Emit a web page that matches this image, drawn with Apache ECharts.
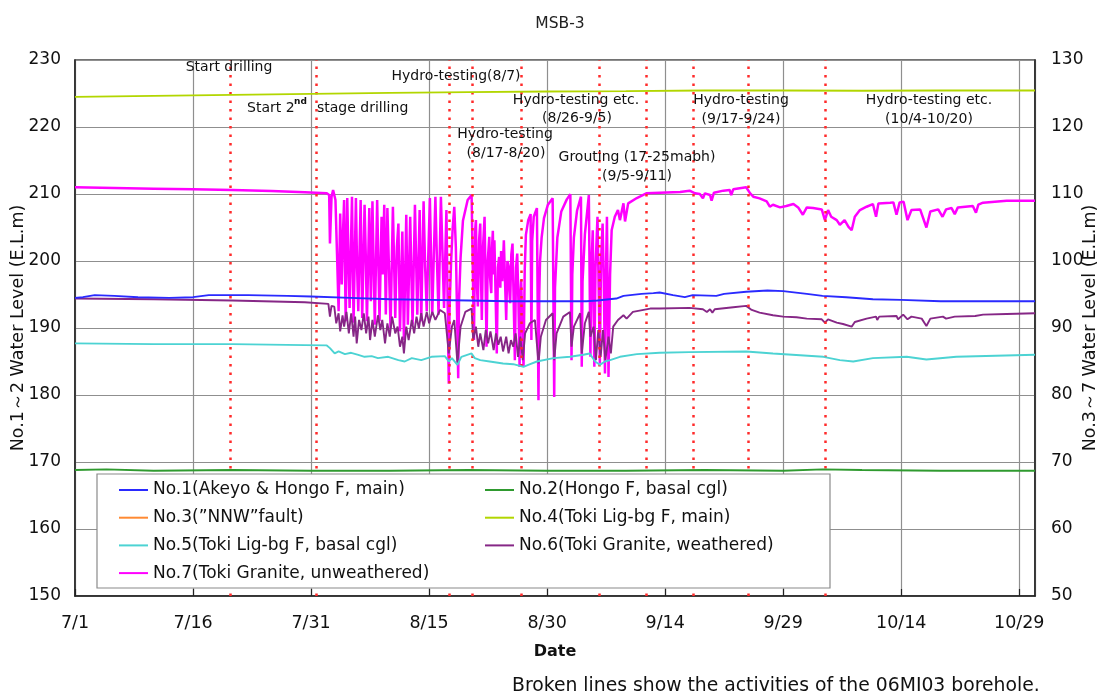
<!DOCTYPE html>
<html>
<head>
<meta charset="utf-8">
<script src="https://cdn.jsdelivr.net/npm/echarts@6/dist/echarts.min.js"></script>
<style>
  html, body { margin: 0; padding: 0; background: #ffffff; }
  #chart { width: 1103px; height: 693px; }
</style>
</head>
<body>
<div id="chart"></div>
<script>
// Axis tick labels (days counted from 7/1, one label every 15 days)
const tickLabels = ['7/1', '7/16', '7/31', '8/15', '8/30', '9/14', '9/29', '10/14', '10/29'];

// Activities of the 06MI03 borehole (day offsets from 7/1)
const activityDays = [19.7, 30.7, 47.6, 50.5, 56.7, 66.6, 72.55, 78.6, 85.5, 95.4];

// No.1 and No.2 use the left axis (E.L.m), [day, level]
const no1AkeyoHongoMain = [
  [0,194.5],[1,194.6],[2.5,194.9],[5,194.8],[8,194.6],[12,194.5],[15,194.6],[17,194.9],[22,194.9],
  [27,194.8],[30,194.7],[35,194.5],[40,194.3],[45,194.2],[50,194.1],[55,194.0],[60,194.0],[65,194.0],
  [66.4,194.1],[68.8,194.4],[69.7,194.8],[72,195.1],[73.5,195.2],[74.3,195.3],[76,194.9],[77.5,194.6],
  [78.5,194.9],[81.5,194.8],[82.5,195.1],[85.3,195.4],[88,195.6],[90,195.5],[93,195.1],[95,194.8],
  [98,194.6],[101.4,194.3],[105,194.2],[110,194.0],[122,194.0]
];
const no2HongoBasal = [
  [0,168.8],[4,168.9],[10,168.7],[20,168.8],[30,168.7],[40,168.7],[50,168.8],[60,168.7],[70,168.7],
  [80,168.8],[90,168.7],[95,168.9],[100,168.8],[110,168.7],[122,168.7]
];

// No.3 to No.7 use the right axis (E.L.m), [day, level]
const no3NNWFault = [];
const no4TokiLigMain = [
  [0,124.5],[10,124.65],[20,124.8],[30,124.95],[40,125.1],[50,125.2],[60,125.3],[70,125.35],
  [80,125.45],[90,125.45],[100,125.4],[110,125.45],[122,125.45]
];
const no5TokiLigBasal = [
  [0,87.7],[10,87.6],[20,87.6],[29.2,87.45],[32.0,87.4],[32.4,87.0],[33.0,86.2],[33.5,86.5],[34.3,86.1],
  [35.1,86.3],[36.0,86.0],[36.8,85.7],[37.7,85.8],[38.5,85.5],[39.8,85.7],[41.1,85.2],[41.9,85.0],
  [42.8,85.5],[44.0,85.2],[45.3,85.7],[47.0,85.8],[47.5,85.0],[47.9,85.5],[48.6,84.5],[49.1,85.7],
  [50.4,86.2],[50.8,85.5],[51.5,85.2],[52.7,85.0],[54.4,84.7],[55.7,84.6],[57.0,84.2],[57.6,84.5],
  [58.7,85.0],[60.8,85.5],[62.9,85.7],[64.6,86.0],[65.4,86.2],[66.1,85.0],[66.7,84.5],[67.35,85.0],
  [68.0,85.2],[69.25,85.7],[71.4,86.1],[74.3,86.3],[78.1,86.4],[85.3,86.5],[88.7,86.2],[95.1,85.7],
  [97.2,85.2],[98.9,85.0],[101.4,85.5],[105.7,85.7],[108.2,85.3],[112.0,85.7],[122,86.0]
];
const no6GraniteWeathered = [
  [0,94.4],[10,94.3],[20,94.1],[29.2,93.85],[32.2,93.6],[32.4,91.7],[32.6,93.3],[32.95,93.2],[33.2,90.7],
  [33.5,92.2],[33.7,89.5],[34.0,91.9],[34.2,90.2],[34.5,92.4],[34.8,89.2],[35.1,92.2],[35.4,88.7],
  [35.6,91.7],[35.8,87.7],[36.1,91.2],[36.4,89.7],[36.7,92.2],[37.0,89.2],[37.3,91.7],[37.5,88.2],
  [37.8,91.2],[38.1,88.7],[38.5,91.9],[38.8,89.7],[39.05,91.2],[39.4,87.7],[39.7,90.7],[40.0,88.7],
  [40.3,91.7],[40.7,89.2],[41.0,90.2],[41.3,87.2],[41.6,88.7],[41.8,86.2],[42.1,90.2],[42.4,88.2],
  [42.8,91.2],[43.1,89.2],[43.4,91.7],[43.7,89.9],[44.0,92.2],[44.3,90.2],[44.7,92.4],[45.0,90.7],
  [45.4,92.4],[45.8,91.2],[46.4,92.7],[47.0,92.2],[47.5,86.2],[47.9,90.2],[48.2,91.2],[48.6,84.7],
  [49.0,90.2],[49.6,92.4],[50.4,92.9],[50.6,88.2],[50.95,90.2],[51.25,87.2],[51.5,89.2],[51.9,86.7],
  [52.2,89.7],[52.5,87.7],[52.8,89.5],[53.2,86.7],[53.5,89.2],[53.8,87.5],[54.1,88.7],[54.4,86.5],
  [54.8,88.7],[55.1,86.2],[55.4,88.2],[55.7,87.2],[56.0,89.2],[56.3,85.7],[56.6,88.7],[56.9,85.2],
  [57.2,89.2],[57.8,90.7],[58.45,91.2],[58.9,84.7],[59.2,88.7],[59.85,91.2],[60.7,92.2],[60.9,85.2],
  [61.2,89.2],[62.05,91.7],[62.9,92.4],[63.1,87.2],[63.4,90.2],[64.2,92.2],[64.4,86.2],[64.8,90.7],
  [65.3,92.4],[65.5,88.7],[65.9,90.2],[66.2,85.2],[66.5,89.7],[66.8,85.7],[67.1,89.7],[67.4,85.2],
  [67.8,88.7],[68.1,86.2],[68.4,90.2],[69.0,91.2],[69.7,91.9],[70.1,91.4],[70.9,92.4],[73.1,92.9],
  [74.3,92.9],[78.1,93.0],[79.8,92.8],[80.3,92.4],[80.7,92.8],[81.0,92.3],[81.3,92.8],[83.65,93.1],
  [85.3,93.3],[86.0,92.7],[87.0,92.3],[88.7,91.9],[90.0,91.7],[91.7,91.6],[93.0,91.4],[94.9,91.3],
  [95.3,90.8],[95.7,91.3],[96.8,90.8],[97.6,90.6],[98.7,90.2],[99.1,90.9],[100.6,91.4],[101.8,91.7],
  [101.95,91.2],[102.2,91.7],[104.4,91.8],[104.6,91.3],[105.25,92.0],[105.8,91.3],[106.3,91.7],
  [107.6,91.4],[108.2,90.3],[108.7,91.4],[110.3,91.7],[110.7,91.4],[111.8,91.7],[114.4,91.8],
  [115.4,92.0],[118.4,92.1],[122,92.2]
];
const no7GraniteUnweathered = [
  [0,111.0],[5,110.9],[10,110.8],[15,110.7],[20,110.6],[25,110.45],[29.2,110.25],[32.0,110.1],[32.3,109.85],
  [32.4,102.6],[32.6,109.6],[32.8,110.6],[33.1,109.1],[33.3,101.0],[33.5,92.5],[33.7,107.1],[33.9,96.5],
  [34.05,104.0],[34.2,109.1],[34.4,91.0],[34.6,109.4],[34.75,100.5],[34.9,93.0],[35.2,109.6],[35.4,90.8],
  [35.7,109.4],[35.85,99.0],[36.0,92.5],[36.3,109.1],[36.5,91.5],[36.8,108.4],[36.95,101.0],[37.1,91.0],
  [37.4,107.9],[37.6,94.0],[37.8,108.9],[37.95,99.5],[38.1,90.5],[38.4,109.1],[38.7,91.0],[38.96,106.6],
  [39.1,98.0],[39.3,108.4],[39.5,92.0],[39.7,107.9],[39.9,99.0],[40.1,90.0],[40.4,108.1],[40.7,91.5],
  [40.9,102.0],[41.1,105.6],[41.3,89.5],[41.6,104.4],[41.8,88.2],[42.1,106.9],[42.3,90.5],[42.6,106.6],
  [42.75,98.0],[42.9,90.5],[43.2,108.4],[43.5,92.0],[43.8,107.6],[44.0,91.0],[44.3,108.9],[44.5,99.0],
  [44.7,92.5],[45.1,109.4],[45.4,92.0],[45.8,109.6],[46.0,100.0],[46.2,92.0],[46.5,109.6],[46.9,93.0],
  [47.2,107.6],[47.5,81.7],[47.6,93.0],[47.8,100.0],[48.0,105.0],[48.2,108.1],[48.4,102.1],[48.7,82.5],
  [48.8,94.0],[49.0,100.5],[49.3,106.0],[49.9,109.1],[50.4,109.85],[50.5,109.85],[50.7,88.2],
  [50.85,104.5],[50.95,106.1],[51.05,97.0],[51.2,93.2],[51.35,103.0],[51.5,105.6],[51.6,97.5],[51.7,91.2],
  [51.85,102.0],[52.05,106.6],[52.15,99.0],[52.3,87.2],[52.45,100.0],[52.65,103.6],[52.75,97.5],[52.9,95.2],
  [53.0,102.0],[53.1,104.5],[53.2,98.0],[53.3,103.1],[53.45,95.0],[53.6,86.2],[53.75,99.0],[53.9,100.6],
  [54.05,96.0],[54.15,101.5],[54.3,97.0],[54.5,103.1],[54.65,97.0],[54.8,91.2],[54.95,100.0],[55.1,99.2],
  [55.2,95.5],[55.3,93.7],[55.45,101.0],[55.6,102.6],[55.75,94.0],[55.9,85.2],[56.05,99.0],[56.2,101.1],
  [56.35,94.0],[56.5,84.2],[56.6,95.0],[56.7,97.2],[56.85,90.0],[57.0,84.2],
  [57.15,98.5],[57.3,103.9],[57.6,106.1],[57.9,107.0],[58.0,88.2],[58.1,103.0],[58.3,106.6],[58.7,107.9],
  [58.9,79.2],[59.0,95.0],[59.1,100.0],[59.3,103.5],[59.6,106.4],[60.1,108.4],[60.7,109.35],[60.9,79.7],
  [61.0,96.0],[61.3,103.5],[61.8,107.4],[62.5,109.2],[62.95,109.95],[63.1,85.2],[63.2,98.0],[63.4,103.5],
  [63.8,107.5],[64.3,109.6],[64.4,84.2],[64.5,97.0],[64.8,104.0],[65.3,109.85],[65.5,85.7],[65.65,100.0],
  [65.8,104.6],[66.0,84.2],[66.15,99.0],[66.4,106.6],[66.55,96.0],[66.7,84.7],[66.85,100.0],[67.05,105.6],
  [67.2,97.0],[67.35,83.2],[67.5,100.0],[67.6,106.6],[67.8,82.7],[68.0,98.0],[68.2,104.6],[68.6,106.6],
  [69.0,107.6],[69.25,106.1],[69.7,108.6],[69.9,105.9],[70.3,108.6],[71.4,109.4],
  [72.6,110.1],[74.3,110.2],[76.9,110.3],[78.1,110.5],[78.8,110.1],[79.4,110.0],[79.8,109.35],[80.05,110.1],
  [80.7,109.85],[80.9,109.0],[81.2,110.2],[82.4,110.5],[83.2,110.6],[83.4,109.85],[83.65,110.7],
  [85.3,111.0],[85.8,110.1],[86.2,109.6],[87.0,109.35],[87.9,108.9],[88.3,108.1],[88.7,108.4],[89.6,108.0],
  [90.4,108.2],[91.3,108.5],[91.9,108.0],[92.5,106.9],[93.0,108.0],[93.8,107.9],[94.9,107.7],[95.3,106.1],
  [95.7,107.6],[96.1,106.6],[96.8,106.1],[97.2,105.4],[97.8,106.1],[98.3,105.1],[98.7,104.6],[99.1,106.6],
  [99.75,107.6],[100.6,108.1],[101.4,108.5],[101.8,106.6],[102.1,108.6],[103.6,108.7],[104.0,108.75],
  [104.4,106.9],[104.8,108.75],[105.3,108.85],[105.8,106.1],[106.3,107.6],[107.4,107.7],[108.2,105.0],
  [108.7,107.4],[109.7,107.7],[110.25,106.6],[110.7,107.7],[111.4,107.9],[111.8,107.0],[112.2,108.0],
  [114.1,108.2],[114.5,107.2],[114.8,108.4],[115.4,108.7],[118.4,109.0],[122,109.0]
];

const FONT = 'DejaVu Sans, Liberation Sans, sans-serif';
const chart = echarts.init(document.getElementById('chart'), null, { renderer: 'canvas' });

const leftCol = ['No.1(Akeyo & Hongo F, main)', 'No.3(\u201dNNW\u201dfault)', 'No.5(Toki Lig-bg F, basal cgl)', 'No.7(Toki Granite, unweathered)'];
const rightCol = ['No.2(Hongo F, basal cgl)', 'No.4(Toki Lig-bg F, main)', 'No.6(Toki Granite, weathered)'];

function lineSeries(name, data, color, yIndex, z, width) {
  return {
    name, type: 'line', data, yAxisIndex: yIndex, showSymbol: false, symbol: 'none',
    color, z, lineStyle: { color, width: width || 1.8 }, animation: false, sampling: null
  };
}

function annotation(text, x, y, align, size, weight) {
  return {
    type: 'text', x, y, z: 12,
    style: {
      text, fill: '#111', fontFamily: FONT, fontSize: size || 14, fontWeight: weight || 'normal',
      align: align || 'center', verticalAlign: 'middle'
    }
  };
}

const legendCommon = {
  orient: 'vertical', selectedMode: false, icon: 'rect', itemWidth: 29, itemHeight: 2,
  itemGap: 7.7, z: 11, padding: 0,
  textStyle: { fontFamily: FONT, fontSize: 17, color: '#111', lineHeight: 20 }
};

chart.setOption({
  backgroundColor: '#ffffff',
  animation: false,
  title: {
    text: 'MSB-3', left: 555, top: 11, textAlign: 'center',
    textStyle: { fontFamily: FONT, fontSize: 15.5, fontWeight: 'normal', color: '#222' }
  },
  grid: {
    left: 75, right: 68, top: 60, bottom: 97, containLabel: false, outerBoundsMode: 'none',
    show: true, borderColor: '#444', borderWidth: 1.5
  },
  legend: [
    Object.assign({ data: leftCol, left: 119, top: 480 }, legendCommon),
    Object.assign({ data: rightCol, left: 485, top: 480 }, legendCommon)
  ],
  xAxis: {
    type: 'value', min: 0, max: 122, interval: 15,
    name: 'Date', nameLocation: 'middle', nameGap: 48, nameMoveOverlap: false,
    nameTextStyle: { fontFamily: FONT, fontSize: 16, fontWeight: 'bold', color: '#111' },
    axisLine: { lineStyle: { color: '#222', width: 1.5 } },
    axisTick: { inside: true, length: 7, lineStyle: { color: '#222', width: 1.2 } },
    axisLabel: {
      fontFamily: FONT, fontSize: 17.5, color: '#111', margin: 18, showMaxLabel: false,
      formatter: v => (v % 15 === 0 && tickLabels[v / 15] !== undefined) ? tickLabels[v / 15] : ''
    },
    splitLine: { show: true, lineStyle: { color: '#8f8f8f', width: 1.2 } }
  },
  yAxis: [
    {
      type: 'value', min: 150, max: 230, interval: 10, position: 'left',
      name: 'No.1\uff5e2 Water Level (E.L.m)', nameLocation: 'middle', nameGap: 48, nameRotate: 90,
      nameMoveOverlap: false,
      nameTextStyle: { fontFamily: FONT, fontSize: 17.5, color: '#111' },
      axisLine: { show: true, lineStyle: { color: '#222', width: 1.5 } },
      axisTick: { show: false },
      axisLabel: { fontFamily: FONT, fontSize: 17, color: '#111', margin: 14 },
      splitLine: { show: true, lineStyle: { color: '#8f8f8f', width: 1.2 } }
    },
    {
      type: 'value', min: 50, max: 130, interval: 10, position: 'right',
      name: 'No.3\uff5e7 Water Level (E.L.m)', nameLocation: 'middle', nameGap: 46, nameRotate: 90,
      nameMoveOverlap: false,
      nameTextStyle: { fontFamily: FONT, fontSize: 17.5, color: '#111' },
      axisLine: { show: true, lineStyle: { color: '#222', width: 1.5 } },
      axisTick: { show: false },
      axisLabel: { fontFamily: FONT, fontSize: 17, color: '#111', margin: 16 },
      splitLine: { show: false }
    }
  ],
  series: [
    lineSeries(leftCol[0], no1AkeyoHongoMain, '#2a2aff', 0, 8, 1.9),
    lineSeries(rightCol[0], no2HongoBasal, '#2f9a2f', 0, 7, 1.9),
    lineSeries(leftCol[1], no3NNWFault, '#ff8a33', 1, 6, 1.9),
    lineSeries(rightCol[1], no4TokiLigMain, '#b2d600', 1, 6, 1.9),
    lineSeries(leftCol[2], no5TokiLigBasal, '#4cd3d3', 1, 5, 1.9),
    lineSeries(rightCol[2], no6GraniteWeathered, '#862786', 1, 4, 1.9),
    lineSeries(leftCol[3], no7GraniteUnweathered, '#ff00ff', 1, 3, 2.5),
    {
      name: 'activities', type: 'line', data: [], yAxisIndex: 0, z: 9,
      markLine: {
        silent: true, symbol: 'none', animation: false, label: { show: false },
        lineStyle: { color: '#ff2b2b', width: 2.5, type: [2.5, 6], cap: 'butt' },
        data: activityDays.map(d => ({ xAxis: d }))
      }
    }
  ],
  graphic: [
    {
      type: 'rect', z: 10,
      shape: { x: 97, y: 474, width: 733, height: 114 },
      style: { fill: '#ffffff', stroke: '#8a8a8a', lineWidth: 1.2 }
    },
    annotation('Start drilling', 229, 67),
    annotation('Start 2', 247, 108, 'left'),
    annotation('nd', 294, 102, 'left', 9, 'bold'),
    annotation('stage drilling', 317, 108, 'left'),
    annotation('Hydro-testing(8/7)', 456, 76),
    annotation('Hydro-testing etc.', 576, 100),
    annotation('(8/26-9/5)', 577, 118),
    annotation('Hydro-testing', 505, 134),
    annotation('(8/17-8/20)', 506, 153),
    annotation('Grouting (17-25mabh)', 637, 157),
    annotation('(9/5-9/11)', 637, 176),
    annotation('Hydro-testing', 741, 100),
    annotation('(9/17-9/24)', 741, 119),
    annotation('Hydro-testing etc.', 929, 100),
    annotation('(10/4-10/20)', 929, 119),
    annotation('Broken lines show the activities of the 06MI03 borehole.', 512, 686, 'left', 18.8)
  ]
});
</script>
</body>
</html>
